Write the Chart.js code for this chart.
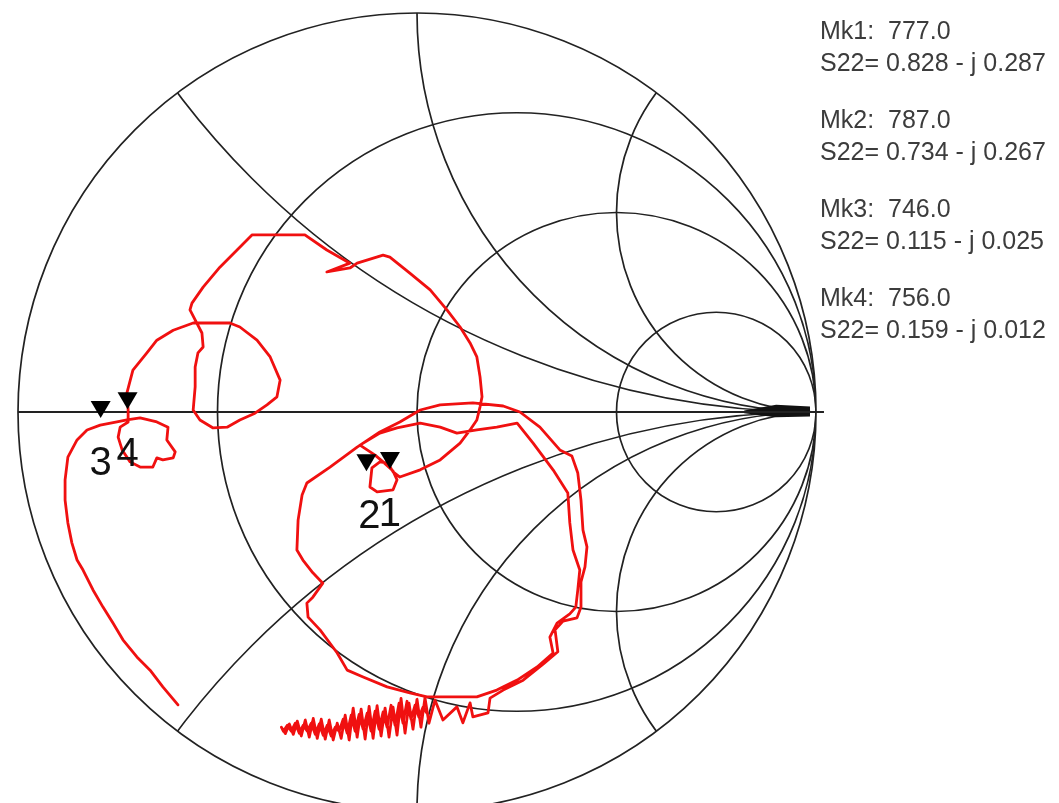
<!DOCTYPE html>
<html>
<head>
<meta charset="utf-8">
<script src="https://cdn.jsdelivr.net/npm/chart.js@4.4.1/dist/chart.umd.min.js"></script>
<style>
  html, body { margin: 0; padding: 0; background: #ffffff; }
  #wrap { width: 1059px; height: 803px; position: relative; overflow: hidden; }
  canvas { display: block; }
</style>
</head>
<body>
<div id="wrap"><canvas id="c" width="1059" height="803"></canvas></div>
<script>
// ---- Smith chart grid values (normalised) ----
const resistanceCircles = [1/3, 1, 3];
const reactanceArcs = [0.5, 1, 2, -0.5, -1, -2];

const traceRe = [
 -0.599,-0.637,-0.669,-0.702,-0.737,-0.762,-0.787,-0.812,-0.837,-0.852,-0.865,-0.875,-0.882,-0.882,-0.875,-0.852,-0.827,-0.794,-0.752,-0.727,
 -0.694,-0.652,-0.624,-0.627,-0.606,-0.611,-0.637,-0.652,-0.662,-0.694,-0.719,-0.739,-0.749,-0.744,-0.724,-0.724,-0.727,
 -0.712,-0.677,-0.652,-0.611,-0.561,-0.469,-0.444,-0.401,-0.368,-0.343,-0.351,-0.376,-0.406,-0.444,-0.476,-0.511,-0.544,-0.561,-0.556,-0.556,-0.549,-0.536,-0.539,-0.556,-0.569,-0.564,-0.536,-0.494,-0.451,-0.413,-0.343,-0.281,-0.226,-0.168,-0.226,-0.168,-0.150,-0.085,-0.068,-0.018,0.033,0.075,0.108,0.133,0.150,0.158,0.163,0.158,
 0.150,0.133,0.108,0.058,0.008,-0.043,-0.060,-0.073,
 -0.093,-0.113,-0.118,-0.100,-0.060,-0.050,-0.060,-0.085,-0.105,
 -0.143,-0.093,-0.050,0.008,0.058,0.100,0.150,0.200,0.251,
 0.291,0.341,0.378,0.383,0.391,0.408,0.403,0.398,0.383,0.351,0.333,0.341,0.301,0.251,0.200,0.150,0.083,0.025,
 -0.018,-0.075,-0.135,-0.175,-0.200,-0.243,-0.273,-0.276,-0.261,-0.236,-0.261,-0.286,-0.301,-0.298,-0.288,-0.276,-0.218,-0.150,-0.093,-0.043,0.008,0.058,0.140,0.216,0.258,0.308,0.358,0.388,0.403,0.411,0.416,0.426,0.421,0.411,0.411,0.401,0.366,0.346,0.353,0.316,0.266,0.216,0.183,
 0.178,0.140,0.133,0.115,0.100,0.065,0.045,
 0.030,0.020,0.010,0.000,-0.010,-0.020,-0.030,-0.040,-0.050,-0.060,-0.070,-0.080,-0.090,-0.100,-0.110,-0.120,-0.130,-0.140,-0.150,-0.160,
 -0.170,-0.180,-0.190,-0.200,-0.210,-0.220,-0.230,-0.240,-0.250,-0.260,-0.270,-0.280,-0.290,-0.300,-0.310,-0.320,-0.330,-0.340,
 -0.335,-0.325,-0.315,-0.305,-0.295,-0.285,-0.275,-0.265,-0.255,-0.245,-0.235,-0.225,-0.215,-0.205,-0.195,-0.185,-0.175,-0.165,-0.155,
 -0.145,-0.135,-0.125,-0.115,-0.105,-0.095,-0.085,-0.075,-0.065,-0.055,-0.045,-0.035,-0.025,-0.015,-0.005,0.005,0.015,0.025
];
const traceIm = [
 -0.734,-0.689,-0.647,-0.614,-0.571,-0.529,-0.489,-0.446,-0.396,-0.371,-0.328,-0.278,-0.221,-0.170,-0.113,-0.070,-0.045,-0.033,-0.025,-0.020,
 -0.015,-0.025,-0.038,-0.070,-0.100,-0.115,-0.120,-0.115,-0.138,-0.138,-0.125,-0.095,-0.063,-0.038,-0.025,0.005,0.048,
 0.105,0.148,0.180,0.205,0.223,0.223,0.213,0.180,0.138,0.080,0.038,0.018,-0.003,-0.020,-0.038,-0.040,-0.020,0.005,0.063,0.113,0.148,0.163,0.198,0.231,0.256,0.273,0.313,0.363,0.406,0.444,0.444,0.444,0.406,0.373,0.351,0.361,0.373,0.393,0.388,0.348,0.306,0.256,0.213,0.173,0.138,0.088,0.038,0.013,
 -0.020,-0.045,-0.078,-0.120,-0.145,-0.163,-0.150,-0.128,
 -0.125,-0.140,-0.188,-0.200,-0.195,-0.170,-0.148,-0.125,-0.108,
 -0.083,-0.053,-0.040,-0.028,-0.038,-0.053,-0.045,-0.038,-0.028,
 -0.078,-0.145,-0.203,-0.278,-0.346,-0.396,-0.446,-0.489,-0.506,-0.529,-0.564,-0.604,-0.639,-0.672,-0.697,-0.714,-0.714,-0.714,
 -0.704,-0.689,-0.664,-0.647,-0.604,-0.546,-0.514,-0.479,-0.464,-0.429,-0.403,-0.371,-0.346,-0.271,-0.208,-0.178,-0.138,-0.088,-0.050,-0.025,0.005,0.018,0.023,0.015,0.000,-0.038,-0.095,-0.110,-0.153,-0.221,-0.296,-0.338,-0.388,-0.426,-0.489,-0.516,-0.524,-0.546,-0.601,-0.632,-0.672,-0.697,-0.717,
 -0.754,-0.764,-0.729,-0.779,-0.739,-0.772,-0.722,
 -0.780,-0.716,-0.790,-0.720,-0.795,-0.730,-0.805,-0.718,-0.810,-0.740,-0.815,-0.742,-0.812,-0.736,-0.818,-0.738,-0.820,-0.745,-0.815,-0.742,
 -0.822,-0.760,-0.818,-0.780,-0.822,-0.772,-0.820,-0.770,-0.818,-0.768,-0.815,-0.772,-0.812,-0.775,-0.808,-0.782,-0.806,-0.790,
 -0.800,-0.785,-0.800,-0.780,-0.805,-0.785,-0.800,-0.780,-0.808,-0.782,-0.810,-0.785,-0.812,-0.790,-0.800,-0.770,-0.805,-0.760,-0.800,
 -0.758,-0.795,-0.755,-0.800,-0.750,-0.795,-0.752,-0.790,-0.735,-0.785,-0.730,-0.780,-0.725,-0.770,-0.735,-0.765,-0.740,-0.755
];

const markerNames = ['Mk1', 'Mk2', 'Mk3', 'Mk4'];
const markerFreqs = ['777.0', '787.0', '746.0', '756.0'];
const markerR = [0.828, 0.734, 0.115, 0.159];
const markerX = [-0.287, -0.267, -0.025, -0.012];
const markerTags = ['1', '2', '3', '4'];

function zToGamma(r, x) {
  // (z-1)/(z+1)
  const nr = r - 1, ni = x, dr = r + 1, di = x;
  const den = dr * dr + di * di;
  return { re: (nr * dr + ni * di) / den, im: (ni * dr - nr * di) / den };
}

const n = Math.min(traceRe.length, traceIm.length);
const tracePoints = [];
for (let i = 0; i < n; i++) tracePoints.push({ x: traceRe[i], y: traceIm[i] });
const markerPoints = markerR.map((r, i) => { const g = zToGamma(r, markerX[i]); return { x: g.re, y: g.im }; });

const W = 1059, H = 803, CX = 417, CY = 412, RAD = 399;

const smithGrid = {
  id: 'smithGrid',
  beforeDatasetsDraw(chart) {
    const ctx = chart.ctx, xs = chart.scales.x, ys = chart.scales.y;
    const px = v => xs.getPixelForValue(v), py = v => ys.getPixelForValue(v);
    const unit = px(1) - px(0);
    ctx.save();
    ctx.strokeStyle = '#222222';
    ctx.lineWidth = 1.7;
    ctx.beginPath();
    ctx.arc(px(0), py(0), unit, 0, Math.PI * 2);
    ctx.save();
    ctx.clip();
    resistanceCircles.forEach(r => {
      ctx.beginPath();
      ctx.arc(px(r / (1 + r)), py(0), unit / (1 + r), 0, Math.PI * 2);
      ctx.stroke();
    });
    reactanceArcs.forEach(x => {
      ctx.beginPath();
      ctx.arc(px(1), py(1 / x), unit / Math.abs(x), 0, Math.PI * 2);
      ctx.stroke();
    });
    // dense convergence near the open-circuit point
    ctx.fillStyle = '#111';
    ctx.beginPath();
    ctx.moveTo(px(0.82), py(0.004));
    ctx.lineTo(px(0.90), py(0.018));
    ctx.lineTo(px(0.985), py(0.014));
    ctx.lineTo(px(0.985), py(-0.011));
    ctx.lineTo(px(0.90), py(-0.013));
    ctx.lineTo(px(0.82), py(-0.003));
    ctx.closePath();
    ctx.fill();
    ctx.restore();
    // outer circle
    ctx.beginPath();
    ctx.arc(px(0), py(0), unit, 0, Math.PI * 2);
    ctx.stroke();
    // real axis
    ctx.lineWidth = 2.2;
    ctx.beginPath();
    ctx.moveTo(px(-1), py(0));
    ctx.lineTo(px(1.02), py(0));
    ctx.stroke();
    ctx.restore();
  },
  afterDatasetsDraw(chart) {
    const ctx = chart.ctx, xs = chart.scales.x, ys = chart.scales.y;
    ctx.save();
    markerPoints.forEach((p, i) => {
      const x = xs.getPixelForValue(p.x), y = ys.getPixelForValue(p.y);
      const tipY = y - 10;
      ctx.fillStyle = '#000';
      ctx.beginPath();
      ctx.moveTo(x, tipY);
      ctx.lineTo(x - 10, tipY - 17);
      ctx.lineTo(x + 10, tipY - 17);
      ctx.closePath();
      ctx.fill();
      ctx.fillStyle = '#111';
      ctx.font = '40px "Liberation Sans", Arial, sans-serif';
      ctx.textAlign = 'center';
      ctx.textBaseline = 'alphabetic';
      ctx.fillText(markerTags[i], x + (i === 1 ? 3 : 0), y + 47);
    });
    ctx.fillStyle = '#3c3c3c';
    ctx.font = '25px "Liberation Sans", Arial, sans-serif';
    ctx.textAlign = 'left';
    ctx.textBaseline = 'middle';
    markerNames.forEach((name, i) => {
      const top = 32 + i * 89;
      ctx.fillText(name + ':  ' + markerFreqs[i], 820, top);
      const xv = markerX[i];
      const txt = 'S22= ' + markerR[i].toFixed(3) + (xv < 0 ? ' - j ' : ' + j ') + Math.abs(xv).toFixed(3);
      ctx.fillText(txt, 820, top + 32);
    });
    ctx.restore();
  }
};

new Chart(document.getElementById('c'), {
  type: 'scatter',
  data: {
    datasets: [{
      label: 'S22',
      data: tracePoints,
      showLine: true,
      borderColor: '#f01010',
      borderWidth: 2.8,
      pointRadius: 0,
      tension: 0,
      borderJoinStyle: 'round',
      borderCapStyle: 'round'
    }]
  },
  options: {
    responsive: false,
    animation: false,
    devicePixelRatio: 1,
    layout: { padding: 0 },
    plugins: { legend: { display: false }, tooltip: { enabled: false } },
    scales: {
      x: { type: 'linear', display: false, min: -CX / RAD, max: (W - CX) / RAD },
      y: { type: 'linear', display: false, min: -(H - CY) / RAD, max: CY / RAD }
    }
  },
  plugins: [smithGrid]
});
</script>
</body>
</html>
